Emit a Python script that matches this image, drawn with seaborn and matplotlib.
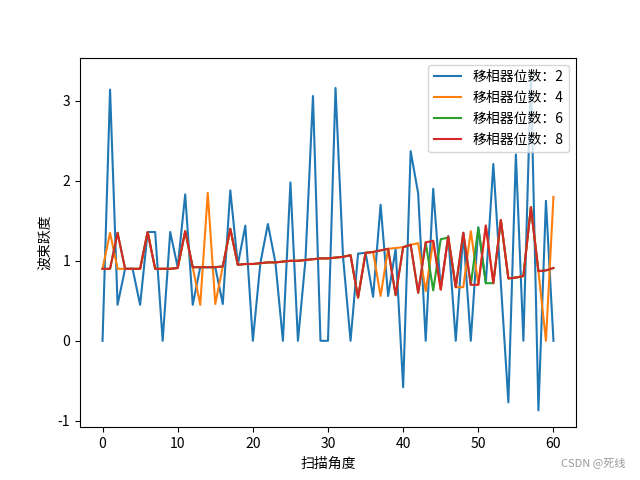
import matplotlib
matplotlib.use("Agg")
import matplotlib.pyplot as plt
import seaborn as sns
import pandas as pd

plt.rcParams['font.family'] = ['Noto Sans CJK SC', 'DejaVu Sans']
plt.rcParams['axes.unicode_minus'] = False

angles = list(range(61))

bits2 = [0.00, 3.14, 0.45, 0.90, 0.90, 0.45, 1.36, 1.36, 0.00, 1.36,
         0.92, 1.83, 0.45, 0.92, 0.92, 0.92, 0.46, 1.88, 0.95, 1.44,
         0.00, 0.97, 1.46, 0.98, 0.00, 1.98, 0.00, 1.01, 3.06, 0.00,
         0.00, 3.16, 1.05, 0.00, 1.09, 1.10, 0.55, 1.70, 0.56, 1.15,
         -0.58, 2.37, 1.84, 0.00, 1.90, 0.65, 1.31, 0.00, 1.35, 0.00,
         1.42, 0.72, 2.21, 0.72, -0.77, 2.33, 0.00, 3.33, -0.87, 1.75,
         0.00]

bits8 = [0.90, 0.90, 1.35, 0.90, 0.90, 0.90, 1.36, 0.90, 0.90, 0.90,
         0.91, 1.37, 0.92, 0.92, 0.92, 0.92, 0.93, 1.40, 0.95, 0.96,
         0.96, 0.97, 0.98, 0.98, 0.99, 1.00, 1.00, 1.01, 1.02, 1.03,
         1.03, 1.04, 1.05, 1.07, 0.54, 1.10, 1.11, 1.13, 1.15, 0.57,
         1.17, 1.20, 0.60, 1.23, 1.25, 0.64, 1.30, 0.67, 1.35, 0.70,
         0.70, 1.44, 0.72, 1.51, 0.78, 0.79, 0.81, 1.67, 0.87, 0.88,
         0.91]

bits4 = [0.90, 1.35, 0.90, 0.90, 0.90, 0.90, 1.36, 0.90, 0.90, 0.90,
         0.91, 1.37, 0.92, 0.45, 1.85, 0.46, 0.93, 1.40, 0.95, 0.96,
         0.96, 0.97, 0.98, 0.98, 0.99, 1.00, 1.00, 1.01, 1.02, 1.03,
         1.03, 1.04, 1.05, 1.07, 0.54, 1.10, 1.11, 0.56, 1.15, 1.16,
         1.17, 1.20, 1.22, 0.62, 1.25, 0.64, 1.30, 0.67, 0.67, 1.37,
         0.70, 1.44, 0.72, 1.51, 0.78, 0.79, 0.81, 1.67, 0.87, 0.00,
         1.80]

bits6 = [0.90, 0.90, 1.35, 0.90, 0.90, 0.90, 1.36, 0.90, 0.90, 0.90,
         0.91, 1.37, 0.92, 0.92, 0.92, 0.92, 0.93, 1.40, 0.95, 0.96,
         0.96, 0.97, 0.98, 0.98, 0.99, 1.00, 1.00, 1.01, 1.02, 1.03,
         1.03, 1.04, 1.05, 1.07, 0.54, 1.10, 1.11, 1.13, 1.15, 0.57,
         1.17, 1.20, 0.60, 1.23, 0.63, 1.27, 1.29, 0.67, 1.35, 0.70,
         1.41, 0.72, 0.72, 1.51, 0.78, 0.79, 0.81, 1.67, 0.87, 0.88,
         0.91]

series = [("移相器位数：2", bits2), ("移相器位数：4", bits4),
          ("移相器位数：6", bits6), ("移相器位数：8", bits8)]
colors = ["#1f77b4", "#ff7f0e", "#2ca02c", "#d62728"]

fig, ax = plt.subplots(figsize=(6.4, 4.8), dpi=100)
for (label, vals), c in zip(series, colors):
    df = pd.DataFrame({"angle": angles, "amp": vals})
    sns.lineplot(data=df, x="angle", y="amp", ax=ax, color=c, label=label,
                 linewidth=1.5)

ax.set_xlabel("扫描角度")
ax.set_ylabel("波束跃度")
ax.legend(loc="upper right")
fig.text(0.977, 0.025, "CSDN @死线", ha="right", va="bottom",
         color="#9a9a9a", fontsize=8)
fig.savefig("out.png", dpi=100)
